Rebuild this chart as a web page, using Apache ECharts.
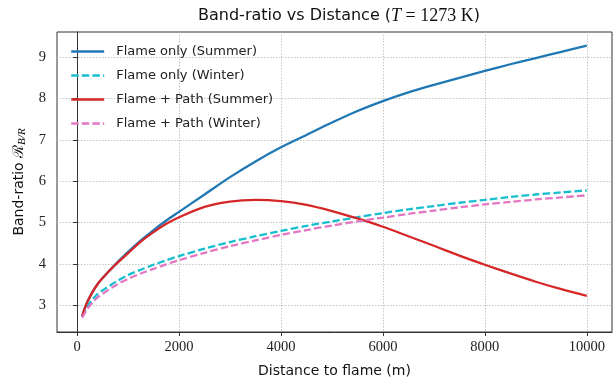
<!DOCTYPE html>
<html>
<head>
<meta charset="utf-8">
<script src="https://cdn.jsdelivr.net/npm/echarts@6/dist/echarts.min.js"></script>
<style>
html,body{margin:0;padding:0;background:#fff;}
#c{width:613px;height:383px;}
</style>
</head>
<body>
<div id="c"></div>
<script>
const distance = [100,150,200,300,400,500,750,1000,1250,1500,1750,2000,2500,3000,3500,4000,4500,5000,5500,6000,6500,7000,7500,8000,8500,9000,9500,10000];
const flameSummer = [2.74,2.93,3.08,3.32,3.51,3.66,3.99,4.29,4.57,4.82,5.05,5.26,5.68,6.10,6.48,6.82,7.12,7.42,7.70,7.94,8.15,8.33,8.50,8.67,8.83,8.98,9.13,9.28];
const flameWinter = [2.72,2.85,2.97,3.14,3.27,3.36,3.56,3.73,3.86,3.98,4.09,4.19,4.37,4.53,4.67,4.80,4.92,5.03,5.13,5.23,5.32,5.40,5.48,5.55,5.62,5.68,5.73,5.78];
const pathSummer = [2.74,2.93,3.08,3.32,3.51,3.66,3.98,4.26,4.54,4.77,4.97,5.13,5.38,5.51,5.55,5.52,5.43,5.28,5.10,4.90,4.67,4.44,4.20,3.98,3.77,3.57,3.39,3.23];
const pathWinter = [2.70,2.81,2.91,3.07,3.19,3.28,3.48,3.64,3.77,3.88,3.99,4.09,4.27,4.43,4.57,4.70,4.82,4.93,5.03,5.12,5.21,5.29,5.37,5.44,5.50,5.56,5.61,5.66];
const seriesNames = ['Flame only (Summer)','Flame only (Winter)','Flame + Path (Summer)','Flame + Path (Winter)'];
const xTicks = [0,2000,4000,6000,8000,10000];
const yTicks = [3,4,5,6,7,8,9];

const zip = ys => distance.map((d,i)=>[d, ys[i]]);
const colors = ['#1f77b4','#17becf','#d62728','#e377c2'];
const dashed = [false,true,false,true];
const allData = [flameSummer, flameWinter, pathSummer, pathWinter];

const chart = echarts.init(document.getElementById('c'), null, {renderer:'canvas'});
const sans = '"DejaVu Sans", sans-serif';
const serif = '"Liberation Serif", serif';
const gridLine = {show:true, lineStyle:{color:'#b8b8b8', width:0.8, type:[1.5,1.5]}};

chart.setOption({
  animation:false,
  backgroundColor:'#fff',
  title:{
    text:'{a|Band-ratio vs Distance (}{i|T}{m| = 1273 K}{a|)}',
    left:334, textAlign:'center', top:2,
    textStyle:{fontWeight:'normal', rich:{
      a:{fontFamily:sans, fontSize:16, fontWeight:'normal', color:'#111'},
      i:{fontFamily:serif, fontStyle:'italic', fontWeight:'normal', fontSize:18, color:'#111'},
      m:{fontFamily:serif, fontWeight:'normal', fontSize:18, color:'#111'}
    }}
  },
  legend:{
    orient:'vertical', left:70, top:45, padding:0, itemWidth:33, itemHeight:14, itemGap:11,
    itemStyle:{opacity:0},
    lineStyle:{width:2.4},
    textStyle:{fontFamily:sans, fontSize:13, color:'#222', padding:[0,0,0,7]},
    data:seriesNames
  },
  grid:{left:57, right:1, top:32, bottom:51, show:true, borderColor:'#333', borderWidth:1, backgroundColor:'transparent'},
  xAxis:{
    type:'value', min:-395, max:10495,
    axisLine:{show:true, lineStyle:{color:'#333', width:1}},
    axisTick:{show:true, inside:false, length:4, customValues:xTicks, lineStyle:{color:'#333'}},
    axisLabel:{customValues:xTicks, formatter:v=>String(v), margin:8, fontFamily:serif, fontSize:14.5, color:'#222'},
    splitLine:gridLine,
    name:'Distance to flame (m)', nameLocation:'middle', nameGap:32,
    nameTextStyle:{fontFamily:sans, fontSize:14, color:'#111'}
  },
  yAxis:{
    type:'value', min:2.354, max:9.61,
    axisLine:{show:true, lineStyle:{color:'#333', width:1}},
    axisTick:{show:true, inside:false, length:4, customValues:yTicks, lineStyle:{color:'#333'}},
    axisLabel:{customValues:yTicks, formatter:v=>String(v), margin:11, fontFamily:serif, fontSize:14.5, color:'#222'},
    splitLine:gridLine,
    name:'{a|Band-ratio }{r|ℛ}{s|B/R}', nameLocation:'middle', nameGap:28,
    nameTextStyle:{rich:{
      a:{fontFamily:sans, fontSize:14, color:'#111'},
      r:{fontFamily:'"DejaVu Serif", serif', fontSize:15, color:'#111'},
      s:{fontFamily:serif, fontStyle:'italic', fontSize:11, color:'#111', verticalAlign:'bottom', padding:[6,0,0,0]}
    }}
  },
  series: allData.map((ys,i)=>({
    name:seriesNames[i], type:'line', data:zip(ys), smooth:0.3,
    symbol:'none', showSymbol:false,
    lineStyle:{color:colors[i], width:2.3, type: dashed[i] ? [7.4,3.2] : 'solid'},
    itemStyle:{color:colors[i]}
  }))
});
</script>
</body>
</html>
